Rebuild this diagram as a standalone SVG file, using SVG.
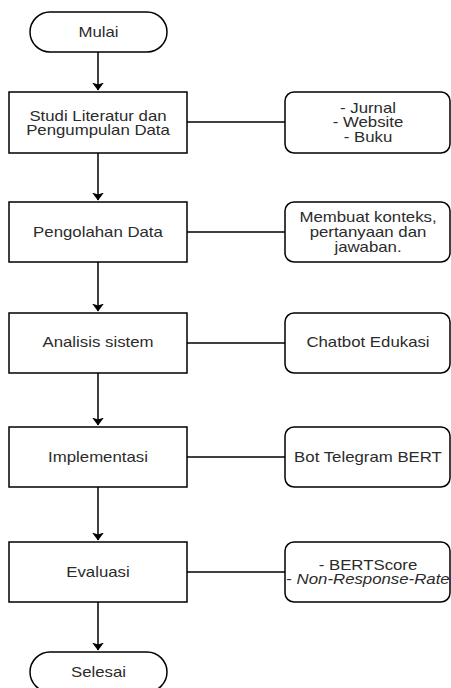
<svg xmlns="http://www.w3.org/2000/svg" width="451" height="688" viewBox="0 0 451 688">
<style>
.shape{fill:#ffffff;stroke:#000000;stroke-width:1.5}
.edge{fill:none;stroke:#000000;stroke-width:1.5}
.t{font-family:"Liberation Sans",Arial,sans-serif;font-size:14px;fill:#2b2b2b;text-anchor:middle}
</style>
<defs>
<marker id="arr" markerUnits="userSpaceOnUse" markerWidth="8" markerHeight="12" viewBox="0 0 8 12" refX="7.5" refY="6" orient="auto">
<path d="M0,0 L8,6 L0,12 L2,6 Z" fill="#000000"/>
</marker>
</defs>
<rect width="451" height="688" fill="#ffffff"/>
<g id="connectors">
<line class="edge" x1="98" y1="52" x2="98" y2="90" marker-end="url(#arr)"/>
<line class="edge" x1="98" y1="153" x2="98" y2="200" marker-end="url(#arr)"/>
<line class="edge" x1="98" y1="262" x2="98" y2="311" marker-end="url(#arr)"/>
<line class="edge" x1="98" y1="373" x2="98" y2="425" marker-end="url(#arr)"/>
<line class="edge" x1="98" y1="487" x2="98" y2="540" marker-end="url(#arr)"/>
<line class="edge" x1="98" y1="602" x2="98" y2="650" marker-end="url(#arr)"/>
<line class="edge" x1="187" y1="122" x2="285" y2="122"/>
<line class="edge" x1="187" y1="232" x2="285" y2="232"/>
<line class="edge" x1="187" y1="343" x2="285" y2="343"/>
<line class="edge" x1="187" y1="457" x2="285" y2="457"/>
<line class="edge" x1="187" y1="572" x2="285" y2="572"/>
</g>
<g id="mulai">
<rect class="shape" x="30" y="12" width="137" height="40" rx="20" ry="20"/>
<text class="t" transform="translate(98.5,37) scale(1.2,1)">Mulai</text>
</g>
<g id="studi">
<rect class="shape" x="9" y="92" width="178" height="61"/>
<text class="t" transform="translate(98,121) scale(1.2,1)">Studi Literatur dan</text>
<text class="t" transform="translate(98,135) scale(1.2,1)">Pengumpulan Data</text>
</g>
<g id="sumber">
<rect class="shape" x="285" y="92" width="165" height="61" rx="9" ry="9"/>
<text class="t" transform="translate(368,113) scale(1.2,1)">- Jurnal</text>
<text class="t" transform="translate(368,127) scale(1.2,1)">- Website</text>
<text class="t" transform="translate(368,142) scale(1.2,1)">- Buku</text>
</g>
<g id="pengolahan">
<rect class="shape" x="9" y="202" width="178" height="60"/>
<text class="t" transform="translate(98,237) scale(1.2,1)">Pengolahan Data</text>
</g>
<g id="konteks">
<rect class="shape" x="285" y="202" width="165" height="60" rx="9" ry="9"/>
<text class="t" transform="translate(368,222) scale(1.2,1)">Membuat konteks,</text>
<text class="t" transform="translate(368,237) scale(1.2,1)">pertanyaan dan</text>
<text class="t" transform="translate(368,252) scale(1.2,1)">jawaban.</text>
</g>
<g id="analisis">
<rect class="shape" x="9" y="313" width="178" height="60"/>
<text class="t" transform="translate(98,347) scale(1.2,1)">Analisis sistem</text>
</g>
<g id="chatbot">
<rect class="shape" x="285" y="313" width="165" height="60" rx="9" ry="9"/>
<text class="t" transform="translate(368,347) scale(1.2,1)">Chatbot Edukasi</text>
</g>
<g id="implementasi">
<rect class="shape" x="9" y="427" width="178" height="60"/>
<text class="t" transform="translate(98,462) scale(1.2,1)">Implementasi</text>
</g>
<g id="bot">
<rect class="shape" x="285" y="427" width="165" height="60" rx="9" ry="9"/>
<text class="t" transform="translate(368,462) scale(1.2,1)">Bot Telegram BERT</text>
</g>
<g id="evaluasi">
<rect class="shape" x="9" y="542" width="178" height="60"/>
<text class="t" transform="translate(98,577) scale(1.2,1)">Evaluasi</text>
</g>
<g id="metrik">
<rect class="shape" x="285" y="542" width="165" height="60" rx="9" ry="9"/>
<text class="t" transform="translate(368,570) scale(1.2,1)">- BERTScore</text>
<text class="t" transform="translate(368,584) scale(1.2,1)">- <tspan font-style="italic">Non-Response-Rate</tspan></text>
</g>
<g id="selesai">
<rect class="shape" x="30" y="652" width="137" height="40" rx="20" ry="20"/>
<text class="t" transform="translate(98.5,677) scale(1.2,1)">Selesai</text>
</g>
</svg>
